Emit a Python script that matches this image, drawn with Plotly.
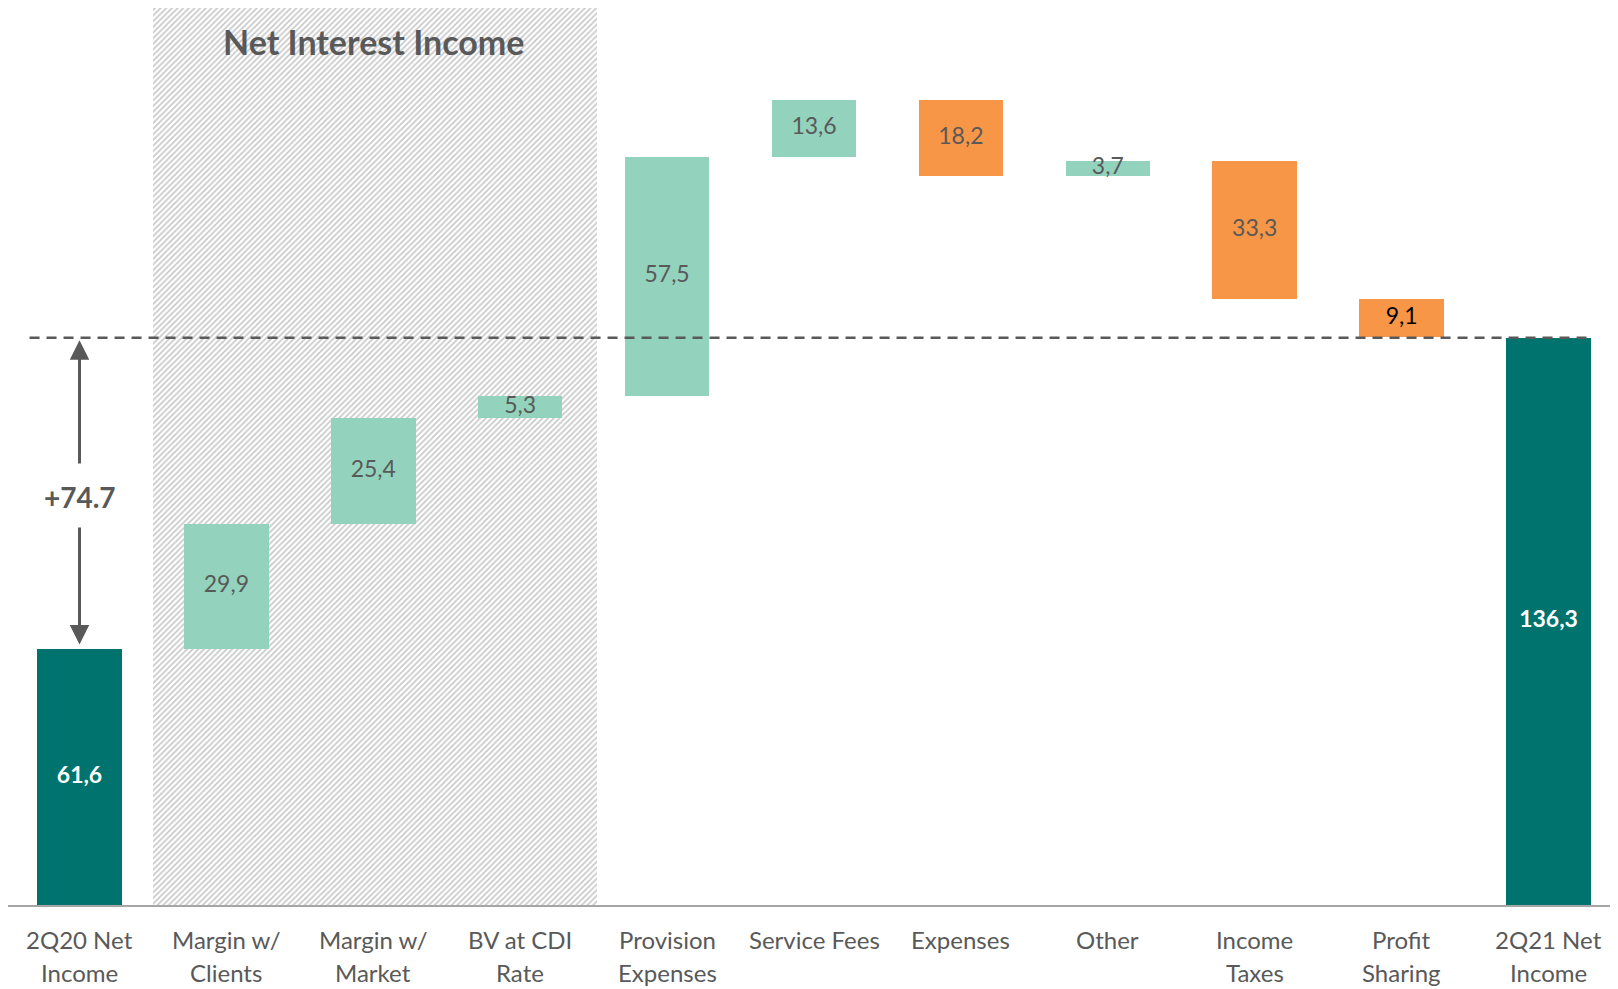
import plotly.graph_objects as go

categories = ["2Q20 Net<br>Income", "Margin w/<br>Clients", "Margin w/<br>Market", "BV at CDI<br>Rate",
              "Provision<br>Expenses", "Service Fees", "Expenses", "Other",
              "Income<br>Taxes", "Profit<br>Sharing", "2Q21 Net<br>Income"]
values = [61.6, 29.9, 25.4, 5.3, 57.5, 13.6, -18.2, 3.7, -33.3, -9.1, 136.3]
measures = ["absolute", "relative", "relative", "relative", "relative", "relative",
            "relative", "relative", "relative", "relative", "absolute"]
labels = ["61,6", "29,9", "25,4", "5,3", "57,5", "13,6", "18,2", "3,7", "33,3", "9,1", "136,3"]
delta_label = "+74.7"
section_title = "Net Interest Income"
section_range = [0.5, 3.52]

TEAL = "#00736E"
GREEN = "#93D3BD"
ORANGE = "#F79646"
GRAY = "#595959"
FONT = "Lato"

x = list(range(len(categories)))
bases, heights, colors, text_colors, texts = [], [], [], [], []
running = 0.0
for i, (v, m) in enumerate(zip(values, measures)):
    if m == "absolute":
        bases.append(0)
        heights.append(v)
        colors.append(TEAL)
        running = v
        text_colors.append("white")
        texts.append("<b>" + labels[i] + "</b>")
    else:
        if v >= 0:
            bases.append(running)
            heights.append(v)
            colors.append(GREEN)
        else:
            bases.append(running + v)
            heights.append(-v)
            colors.append(ORANGE)
        running += v
        text_colors.append("black" if labels[i] == "9,1" else GRAY)
        texts.append(labels[i])

# page is offset by the default 8px body margin
OFF = 8
AXIS_PAGE_Y = 905
PLOT_H = AXIS_PAGE_Y - OFF
YMAX = 215.5
PX = PLOT_H / YMAX  # pixels per unit


def py2val(py):
    return (AXIS_PAGE_Y - py) / PX


def py2paper(py):
    return (AXIS_PAGE_Y - py) / PLOT_H


CAT_W = 146.9
x0 = -(79.5 - OFF) / CAT_W
x1 = x0 + 1618 / CAT_W

fig = go.Figure()

# hatched section background
fig.add_trace(go.Bar(
    x=[(section_range[0] + section_range[1]) / 2], y=[YMAX], base=[0],
    width=[section_range[1] - section_range[0]],
    marker=dict(color="white", line=dict(width=0),
                pattern=dict(shape="/", size=4, solidity=0.4, fgcolor="#8f8f8f", bgcolor="white")),
    hoverinfo="skip", showlegend=False))

fig.add_trace(go.Bar(
    x=x, y=heights, base=bases, width=0.575,
    marker=dict(color=colors, line=dict(width=0)),
    showlegend=False, hoverinfo="skip"))

fig.add_trace(go.Scatter(
    x=x, y=[b + h / 2 for b, h in zip(bases, heights)], mode="text",
    text=texts, textfont=dict(color=text_colors, size=23, family=FONT),
    textposition="middle center", showlegend=False, hoverinfo="skip", cliponaxis=False))

total = values[-1]
fig.add_shape(type="line", x0=-0.34, x1=10.3, y0=total, y1=total,
              line=dict(color=GRAY, width=2.5, dash="10px,7px"), layer="above")

# arrows
fig.add_annotation(x=0, y=total - 0.6, ax=0, ay=py2val(465), xref="x", yref="y", axref="x", ayref="y",
                   showarrow=True, arrowhead=2, arrowsize=1.3, arrowwidth=3, arrowcolor=GRAY, text="")
fig.add_annotation(x=0, y=values[0] + 1.0, ax=0, ay=py2val(526), xref="x", yref="y", axref="x", ayref="y",
                   showarrow=True, arrowhead=2, arrowsize=1.3, arrowwidth=3, arrowcolor=GRAY, text="")
fig.add_annotation(x=0, y=py2val(497), xref="x", yref="y", showarrow=False, yanchor="middle",
                   text="<b>" + delta_label + "</b>", font=dict(size=28, color=GRAY, family=FONT))
fig.add_annotation(x=2, y=py2val(41), xref="x", yref="y", showarrow=False, yanchor="middle",
                   text="<b>" + section_title + "</b>", font=dict(size=34, color=GRAY, family=FONT))

# category labels (two lines each)
for xi, cat in zip(x, categories):
    lines = cat.split("<br>")
    for li, line in enumerate(lines):
        fig.add_annotation(x=xi, y=py2paper(939 + 33 * li), xref="x", yref="paper", showarrow=False,
                           yanchor="middle", xanchor="center",
                           text=line, font=dict(size=24, color=GRAY, family=FONT))

fig.update_layout(
    width=1618, height=989,
    margin=dict(l=0, r=0, t=0, b=989 - PLOT_H),
    plot_bgcolor="white", paper_bgcolor="white",
    barmode="overlay", bargap=0,
    xaxis=dict(range=[x0, x1], tickvals=x, showticklabels=False, showgrid=False, zeroline=False,
               showline=True, linecolor="#a6a6a6", linewidth=2, ticks="", automargin=False),
    yaxis=dict(range=[0, YMAX], visible=False, showgrid=False, automargin=False),
)

fig.write_html("out.html")
